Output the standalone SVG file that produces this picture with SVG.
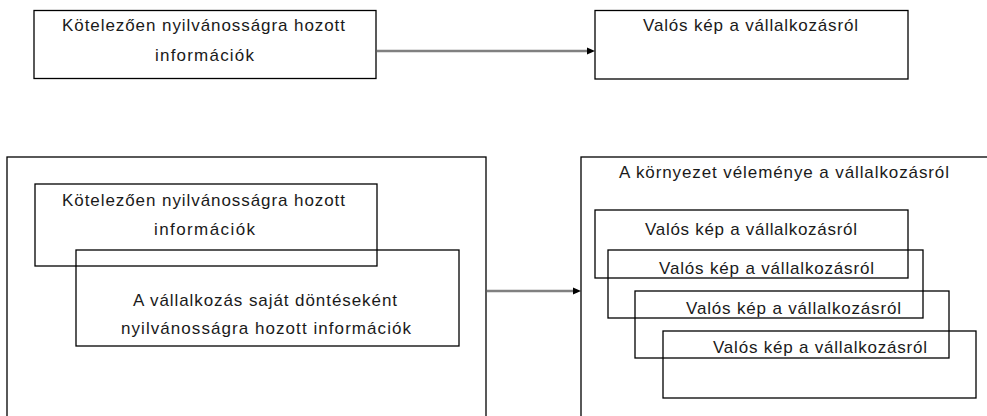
<svg xmlns="http://www.w3.org/2000/svg" width="987" height="416" viewBox="0 0 987 416">
<style>
.box{fill:none;stroke:#000;stroke-width:1.3}
.t{font-family:"Liberation Sans","Open Sans",sans-serif;font-size:17px;fill:#1a1a1a}
.conn{stroke:#808080;stroke-width:2.5;fill:none}
</style>
<rect width="987" height="416" fill="#fff"/>
<g id="n-top-left">
<rect class="box" x="34" y="10.5" width="342" height="68"/>
<text class="t" x="62" y="31" textLength="283" lengthAdjust="spacing">Kötelezően nyilvánosságra hozott</text>
<text class="t" x="155" y="61" textLength="99" lengthAdjust="spacing">információk</text>
</g>
<g id="n-top-right">
<rect class="box" x="595" y="10.5" width="313" height="68.5"/>
<text class="t" x="643" y="31" textLength="215" lengthAdjust="spacing">Valós kép a vállalkozásról</text>
</g>
<g id="n-bottom-left">
<rect class="box" x="7" y="157" width="479" height="270"/>
<g id="n-bl-inner1">
<rect class="box" x="35" y="184" width="342" height="82"/>
<text class="t" x="62" y="206" textLength="283" lengthAdjust="spacing">Kötelezően nyilvánosságra hozott</text>
<text class="t" x="154" y="235" textLength="101" lengthAdjust="spacing">információk</text>
</g>
<g id="n-bl-inner2">
<rect class="box" x="76" y="250" width="383" height="96"/>
<text class="t" x="133" y="306" textLength="264" lengthAdjust="spacing">A vállalkozás saját döntéseként</text>
<text class="t" x="121" y="334" textLength="290" lengthAdjust="spacing">nyilvánosságra hozott információk</text>
</g>
</g>
<g id="n-bottom-right">
<rect class="box" x="581" y="157" width="420" height="270"/>
<text class="t" x="619" y="178" textLength="330" lengthAdjust="spacing">A környezet véleménye a vállalkozásról</text>
<g id="n-br-1">
<rect class="box" x="595" y="210" width="313" height="68"/>
<text class="t" x="645" y="235" textLength="212" lengthAdjust="spacing">Valós kép a vállalkozásról</text>
</g>
<g id="n-br-2">
<rect class="box" x="608" y="250" width="315" height="68"/>
<text class="t" x="659" y="274" textLength="215" lengthAdjust="spacing">Valós kép a vállalkozásról</text>
</g>
<g id="n-br-3">
<rect class="box" x="635" y="291" width="314" height="67"/>
<text class="t" x="686" y="314" textLength="215" lengthAdjust="spacing">Valós kép a vállalkozásról</text>
</g>
<g id="n-br-4">
<rect class="box" x="663" y="331" width="313" height="67"/>
<text class="t" x="713" y="353" textLength="214" lengthAdjust="spacing">Valós kép a vállalkozásról</text>
</g>
</g>
<g id="connectors">
<line class="conn" x1="377" y1="51" x2="588" y2="51"/>
<path d="M587,47.5 L595,51 L587,54.5 Z" fill="#000"/>
<line class="conn" x1="487" y1="291" x2="574" y2="291"/>
<path d="M573,287.5 L581,291 L573,294.5 Z" fill="#000"/>
</g>
</svg>
